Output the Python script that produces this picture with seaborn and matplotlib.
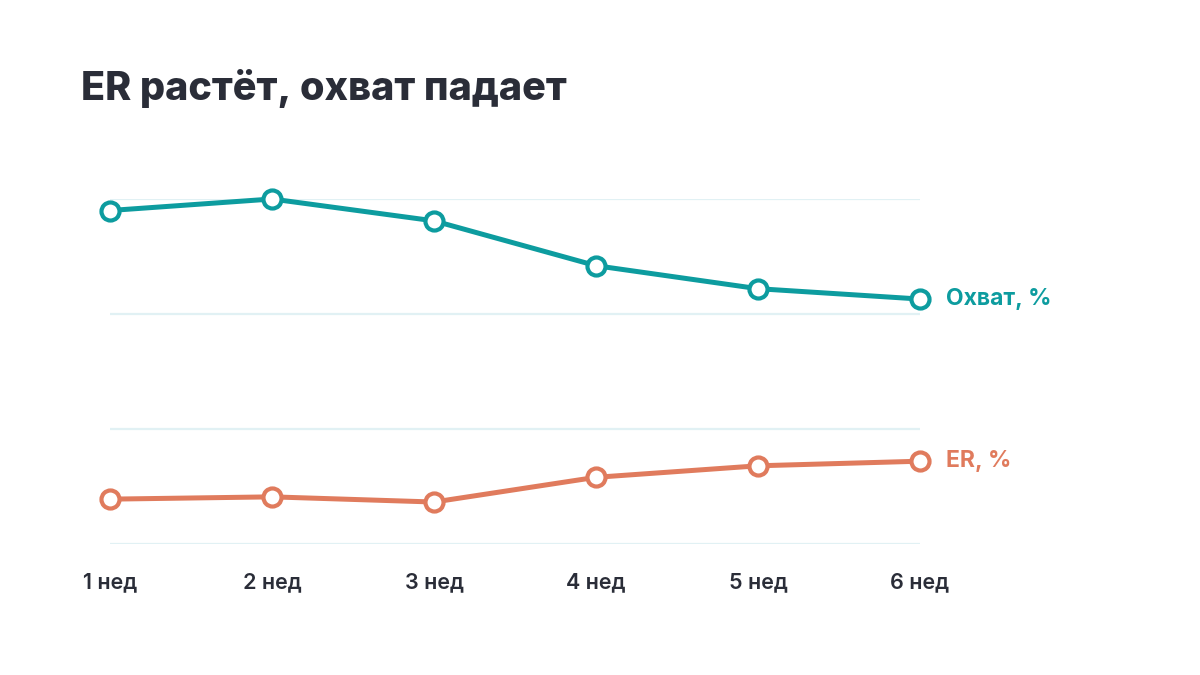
import matplotlib
matplotlib.use("Agg")
import matplotlib.pyplot as plt
import seaborn as sns

# ==========================================
# Data
# ==========================================

weeks = [1, 2, 3, 4, 5, 6]
week_labels = ["1 нед", "2 нед", "3 нед", "4 нед", "5 нед", "6 нед"]
reach = [29.0, 30.0, 28.1, 24.2, 22.2, 21.3]
er = [3.9, 4.1, 3.65, 5.8, 6.8, 7.2]

TEAL = "#0d9c9f"
CORAL = "#e07b5d"
DARK = "#2a2d38"
GRID = "#e1f1f4"

# ==========================================
# Figure
# ==========================================

sns.set_theme(style="white")
plt.rcParams["font.family"] = ["Inter", "DejaVu Sans"]

fig = plt.figure(figsize=(12, 6.75), dpi=100)
ax = fig.add_axes([110 / 1200, 1 - 544 / 675, 810 / 1200, 345 / 675])

for values, color in [(reach, TEAL), (er, CORAL)]:
    sns.lineplot(
        x=weeks,
        y=values,
        ax=ax,
        color=color,
        linewidth=3.6,
        marker="o",
        markersize=13,
        markerfacecolor="white",
        markeredgecolor=color,
        markeredgewidth=3,
        clip_on=False,
        zorder=3,
    )

ax.set_xlim(1, 6)
ax.set_ylim(0, 30)
ax.set_yticks([0, 10, 20, 30])
ax.set_yticklabels([])
ax.yaxis.grid(True, color=GRID, linewidth=1.6)
ax.xaxis.grid(False)
ax.tick_params(axis="y", length=0)
ax.tick_params(axis="x", length=0, pad=20, labelsize=15.5, labelcolor=DARK)
ax.set_xticks(weeks)
ax.set_xticklabels(week_labels, fontweight="semibold")
for spine in ax.spines.values():
    spine.set_visible(False)

# End labels
ax.annotate("Охват, %", xy=(weeks[-1], reach[-1]), xytext=(19, 0),
            textcoords="offset points", va="center", ha="left",
            color=TEAL, fontsize=16.5, fontweight="bold", annotation_clip=False)
ax.annotate("ER, %", xy=(weeks[-1], er[-1]), xytext=(19, 0),
            textcoords="offset points", va="center", ha="left",
            color=CORAL, fontsize=16.5, fontweight="bold", annotation_clip=False)

fig.text(81 / 1200, 1 - 88 / 675, "ER растёт, охват падает",
         fontsize=28.5, fontweight="heavy", color=DARK, va="center", ha="left")

fig.savefig("out.png", dpi=100, facecolor="white")
plt.close(fig)
